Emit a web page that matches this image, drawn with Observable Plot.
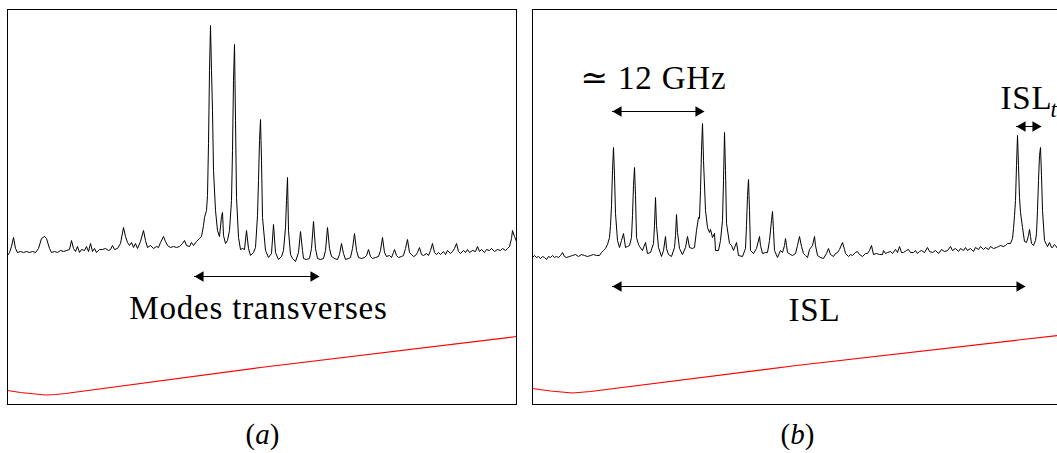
<!DOCTYPE html>
<html><head><meta charset="utf-8">
<script src="https://cdn.jsdelivr.net/npm/d3@7"></script>
<script src="https://cdn.jsdelivr.net/npm/@observablehq/plot@0.6"></script>
<style>
html,body{margin:0;padding:0;background:#fff;overflow:hidden;}
#row{display:flex;flex-wrap:nowrap;width:1080px;}
.panel{flex:none;}
.panel svg text{font-family:"Liberation Serif","DejaVu Serif",serif !important;}
.panel svg g[font-size="33"] text{letter-spacing:0.8px;}
.cap{font-family:"Liberation Serif","DejaVu Serif",serif;font-size:29px;text-align:center;margin-top:6px;color:#000;line-height:normal;}
</style></head><body><div id="row"></div>
<script>
// ---- data (arbitrary units: sweep time t, detector signal v) ----
const panelIds = ["a", "b"];

// Panel (a): Fabry-Perot transmission (black) and ramp (red)
const traceA_t = [0,2,4,6,8,10,13,16,19,22,25,28,31,34,37,39,42,44,47,50,53,56,59,62,64,66,68,70,72,74,77,79,81,83,85,87,89,92,95,98,101,103,105,107,110,113,116,118,120,122,124,126,128,130,133,136,138,140,143,146,149,151,153,156,158,160,163,166,169,172,175,177,179,182,184,186,189,192,194,196,197,199,200,201,202,203,204,205,206,208,210,212,214,215,216,218,220,222,224,225,226,227,228,229,231,233,235,237,239,241,243,246,248,250,251,252,253,254,255,258,261,264,266,268,271,274,276,278,279,280,281,283,285,288,291,293,295,296,299,302,304,306,308,310,313,316,318,320,322,324,327,330,332,334,336,338,341,343,345,347,349,351,354,357,359,361,363,365,368,371,373,375,377,379,382,384,386,387,389,391,394,396,398,400,402,404,406,408,410,412,414,416,419,421,423,425,427,429,431,433,436,438,440,443,445,447,449,451,453,456,458,460,462,465,468,470,472,474,477,479,482,484,487,490,493,495,498,500,502,504,505,507,509];
const traceA_v = [149,152,158,167,156,152,153,152,153,152,153,152,156,166,168,166,156,152,153,152,154,153,154,155,164,156,153,158,152,155,154,158,153,161,153,156,152,155,155,156,154,155,159,155,156,161,177,168,162,159,162,157,161,156,163,174,164,157,159,156,158,157,162,168,163,159,157,158,157,158,161,164,159,158,162,159,163,166,168,179,187,194,209,261,334,379,334,294,234,194,174,168,188,192,169,161,164,174,204,254,324,360,284,207,167,155,156,155,174,156,149,152,157,189,224,264,285,244,187,154,147,151,180,152,145,148,154,177,204,227,174,150,146,143,152,173,154,146,145,146,156,183,156,146,145,146,154,177,156,148,146,145,150,161,151,145,146,147,156,171,154,147,146,147,149,155,148,146,147,148,154,167,152,148,149,147,152,155,149,147,148,149,156,165,152,150,148,149,152,157,150,149,151,149,154,161,152,150,152,150,153,150,154,151,153,156,161,153,151,154,152,155,152,154,153,158,153,155,152,155,154,156,153,155,154,156,154,156,158,166,174,168,163];
const rampA_t = [0,13,23,38,48,58,253,509];
const rampA_v = [14,12,11,9.5,10,11,37,68];

// Panel (b)
const traceB_t = [0,2,4,6,8,10,12,14,16,18,20,22,24,26,28,30,32,34,37,40,43,46,49,52,55,58,61,64,67,69,71,73,75,77,78,79,80,81,82,83,85,87,89,91,93,95,97,99,100,101,102,103,104,106,107,110,113,115,118,121,122,123,124,126,129,131,133,134,136,139,142,143,144,145,147,150,153,155,157,160,162,164,166,167,168,169,170,171,173,175,177,178,180,182,183,186,188,190,191,192,193,194,197,199,201,204,206,210,213,214,215,216,217,218,221,224,227,228,230,233,235,237,239,240,241,242,245,248,250,252,253,254,255,258,260,263,265,267,269,271,273,275,277,280,282,283,285,288,291,294,296,298,301,303,305,307,310,312,313,316,318,320,323,325,327,330,333,335,337,339,341,344,347,350,351,353,355,358,360,363,365,367,369,371,374,376,378,381,383,385,387,389,392,395,397,400,403,406,409,412,415,418,420,423,426,428,431,433,435,438,441,443,446,448,451,453,456,458,461,464,466,468,471,473,475,478,480,481,482,483,484,485,486,487,488,490,492,494,496,497,498,499,501,503,504,505,506,507,508,509,510,512,514,515,517,519,520,522,523,525,528,530];
const traceB_v = [147,149,147,148,146,148,147,145,148,147,149,147,148,147,149,152,148,147,148,149,150,148,150,149,148,149,150,149,149,152,154,156,160,167,179,199,234,257,229,191,164,157,164,171,157,158,159,167,189,219,237,209,167,160,158,154,162,151,152,161,179,207,179,157,148,154,168,156,150,148,157,169,190,172,156,150,157,168,157,156,157,174,187,186,214,254,281,244,194,177,172,175,167,171,154,154,164,184,224,272,234,181,161,159,154,162,149,148,156,179,209,225,194,154,151,156,168,159,151,152,152,164,184,193,174,154,147,154,152,159,166,159,152,150,149,151,159,168,158,151,149,147,155,159,168,159,149,147,146,151,156,150,148,151,152,155,162,155,151,148,150,149,152,153,150,148,151,151,154,159,150,151,150,150,154,151,152,153,151,155,152,158,152,152,154,155,152,152,154,151,153,154,152,157,153,152,154,151,155,153,154,158,154,156,153,156,154,157,154,156,153,157,155,158,155,157,155,158,156,157,158,159,158,159,161,161,166,176,189,204,239,269,239,207,192,177,163,162,169,175,168,161,159,164,171,194,224,249,257,229,194,164,160,158,162,157,157,160,159,156,158,157];
const rampB_t = [0,18,40,58,264,525,530];
const rampB_v = [16,13.5,11.5,13,39,69,69.6];

// Annotations: double arrows (panel, from, to, level) and labels
const arrowPanel = ["a", "b", "b", "b"];
const arrowFrom  = [187, 80, 80, 484];
const arrowTo    = [312, 172, 493, 509];
const arrowLevel = [128, 293, 118, 278];

const labelPanel = ["a", "b", "b", "b", "b"];
const labelText  = ["Modes transverses", "≃ 12 GHz", "ISL", "ISL", "t"];
const labelX     = [251, 48, 282, 468, 518];
const labelY     = [86, 316, 84, 296, 288];
const labelKind  = ["middle", "start", "middle", "start", "sub"];

// ---- build tables ----
const zip = (ts, vs) => ts.map((t, i) => ({t, v: vs[i]}));
const traces = {a: zip(traceA_t, traceA_v), b: zip(traceB_t, traceB_v)};
const ramps  = {a: zip(rampA_t, rampA_v),  b: zip(rampB_t, rampB_v)};
const arrows = arrowPanel.map((p, i) => ({panel: p, from: arrowFrom[i], to: arrowTo[i], level: arrowLevel[i]}));
const labels = labelPanel.map((p, i) => ({panel: p, text: labelText[i], x: labelX[i], y: labelY[i], kind: labelKind[i]}));

const layout = {
  a: {width: 525, marginLeft: 7, marginRight: 9, xMax: 509},
  b: {width: 545, marginLeft: 7, marginRight: 8, xMax: 530}
};
const serif = "Liberation Serif";

const row = document.getElementById("row");
for (const id of panelIds) {
  const L = layout[id];
  const arr = arrows.filter(d => d.panel === id);
  const lab = labels.filter(d => d.panel === id);
  const svg = Plot.plot({
    width: L.width,
    height: 412,
    marginLeft: L.marginLeft,
    marginRight: L.marginRight,
    marginTop: 9,
    marginBottom: 8,
    x: {domain: [0, L.xMax], axis: null},
    y: {domain: [0, 395], axis: null},
    marks: [
      Plot.line(ramps[id], {x: "t", y: "v", stroke: "#ff0000", strokeWidth: 1.2}),
      Plot.line(traces[id], {x: "t", y: "v", stroke: "#000", strokeWidth: 1}),
      Plot.ruleY(arr, {y: "level", x1: "from", x2: "to", stroke: "#000", strokeWidth: 1}),
      Plot.dot(arr, {x: "from", y: "level", symbol: "triangle", rotate: -90, r: 3.9, fill: "#000", stroke: "none", dx: 6}),
      Plot.dot(arr, {x: "to", y: "level", symbol: "triangle", rotate: 90, r: 3.9, fill: "#000", stroke: "none", dx: -6}),
      Plot.text(lab.filter(d => d.kind === "middle"), {x: "x", y: "y", text: "text", textAnchor: "middle", lineAnchor: "bottom", fontFamily: serif, fontSize: 33, fill: "#000"}),
      Plot.text(lab.filter(d => d.kind === "start"), {x: "x", y: "y", text: "text", textAnchor: "start", lineAnchor: "bottom", fontFamily: serif, fontSize: 33, fill: "#000"}),
      Plot.text(lab.filter(d => d.kind === "sub"), {x: "x", y: "y", text: "text", textAnchor: "start", lineAnchor: "bottom", fontFamily: serif, fontSize: 23, fontStyle: "italic", fill: "#000"}),
      Plot.frame({stroke: "#000", strokeWidth: 1})
    ]
  });
  const div = document.createElement("div");
  div.className = "panel";
  div.style.width = L.width + "px";
  div.appendChild(svg);
  const cap = document.createElement("div");
  cap.className = "cap";
  const it = document.createElement("i");
  it.textContent = id;
  cap.append("(", it, ")");
  div.appendChild(cap);
  row.appendChild(div);
}
</script></body></html>
